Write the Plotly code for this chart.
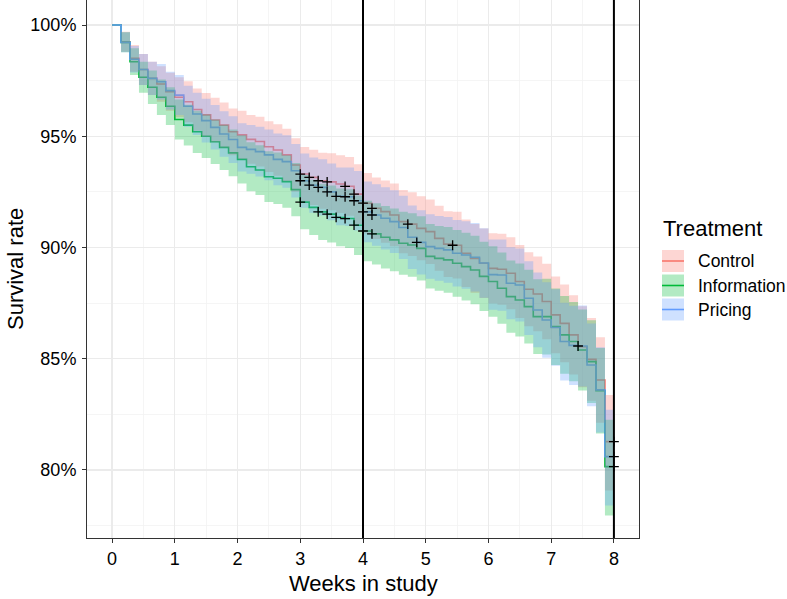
import plotly.graph_objects as go

# ---------------- data ----------------
days = list(range(57))  # daily steps, 0..56 days (= 0..8 weeks)

ctrl_surv = [100, 99.25, 98.5, 98.0, 97.6, 97.35, 97.0, 96.75, 96.55, 96.2,
             95.96, 95.73, 95.5, 95.2, 95.06, 94.86, 94.76, 94.53, 94.38, 94.16,
             93.71, 93.3, 93.15, 93.0, 92.95, 92.85, 92.75, 92.4, 91.99, 91.76,
             91.61, 91.46, 91.16, 91.05, 90.86, 90.71, 90.41, 90.15, 90.1, 89.74,
             89.51, 89.29, 89.06, 89.02, 88.84, 88.47, 88.12, 87.91, 87.57, 86.97,
             86.59, 86.07, 85.54, 84.97, 84.04, 81.27, 81.27]
ctrl_upper = [100, 99.70, 99.10, 98.70, 98.35, 98.15, 97.85, 97.65, 97.47, 97.15,
              96.94, 96.73, 96.52, 96.25, 96.14, 95.96, 95.88, 95.67, 95.54, 95.34,
              94.91, 94.52, 94.39, 94.26, 94.23, 94.15, 94.07, 93.74, 93.35, 93.14,
              93.01, 92.87, 92.58, 92.48, 92.30, 92.16, 91.87, 91.63, 91.60, 91.26,
              91.05, 90.85, 90.64, 90.62, 90.46, 90.11, 89.78, 89.59, 89.27, 88.69,
              88.34, 87.85, 87.36, 86.83, 85.96, 83.37, 83.37]
ctrl_lower = [100, 98.80, 97.90, 97.30, 96.85, 96.55, 96.15, 95.85, 95.63, 95.25,
              94.98, 94.73, 94.48, 94.15, 93.98, 93.76, 93.64, 93.39, 93.22, 92.98,
              92.51, 92.08, 91.91, 91.74, 91.67, 91.55, 91.43, 91.06, 90.63, 90.38,
              90.21, 90.05, 89.74, 89.62, 89.42, 89.26, 88.95, 88.67, 88.60, 88.22,
              87.97, 87.73, 87.48, 87.42, 87.22, 86.83, 86.46, 86.23, 85.87, 85.25,
              84.84, 84.29, 83.72, 83.11, 82.12, 79.07, 79.07]

info_surv = [100, 99.22, 98.35, 97.65, 97.2, 96.75, 96.35, 95.75, 95.5, 95.2,
             95.0, 94.75, 94.5, 94.25, 93.96, 93.63, 93.48, 93.18, 93.11, 92.96,
             92.6, 92.04, 91.8, 91.6, 91.5, 91.35, 91.3, 91.0, 90.74, 90.61,
             90.46, 90.34, 90.19, 90.11, 89.96, 89.6, 89.51, 89.44, 89.29, 89.14,
             88.99, 88.7, 88.47, 88.17, 87.79, 87.64, 87.34, 86.89, 86.89, 86.44,
             86.07, 85.77, 85.39, 84.87, 83.56, 80.15, 80.15]
info_upper = [100, 99.67, 98.95, 98.35, 97.95, 97.55, 97.20, 96.65, 96.42, 96.15,
              95.98, 95.75, 95.52, 95.30, 95.04, 94.73, 94.60, 94.32, 94.27, 94.14,
              93.80, 93.26, 93.04, 92.86, 92.78, 92.65, 92.62, 92.34, 92.10, 91.99,
              91.86, 91.75, 91.61, 91.54, 91.40, 91.05, 90.97, 90.92, 90.79, 90.66,
              90.53, 90.26, 90.05, 89.77, 89.41, 89.28, 89.00, 88.57, 88.59, 88.16,
              87.82, 87.55, 87.21, 86.73, 85.48, 82.25, 82.25]
info_lower = [100, 98.77, 97.75, 96.95, 96.45, 95.95, 95.50, 94.85, 94.58, 94.25,
              94.02, 93.75, 93.48, 93.20, 92.88, 92.53, 92.36, 92.04, 91.95, 91.78,
              91.40, 90.82, 90.56, 90.34, 90.22, 90.05, 89.98, 89.66, 89.38, 89.23,
              89.06, 88.93, 88.77, 88.68, 88.52, 88.15, 88.05, 87.96, 87.79, 87.62,
              87.45, 87.14, 86.89, 86.57, 86.17, 86.00, 85.68, 85.21, 85.19, 84.72,
              84.32, 83.99, 83.57, 83.01, 81.64, 77.95, 77.95]

pric_surv = [100, 99.22, 98.46, 98.0, 97.6, 97.45, 97.05, 96.85, 96.35, 96.0,
             95.7, 95.4, 95.1, 94.85, 94.5, 94.41, 94.31, 94.16, 93.96, 93.86,
             93.45, 93.0, 92.8, 92.7, 92.5, 92.3, 92.28, 92.1, 91.6, 91.46,
             91.31, 91.16, 90.9, 90.46, 90.23, 90.04, 89.96, 89.89, 89.74, 89.66,
             89.56, 89.3, 88.78, 88.76, 88.39, 88.31, 87.72, 87.19, 86.74, 86.4,
             85.77, 85.6, 85.57, 84.72, 83.6, 80.6, 80.6]
pric_upper = [100, 99.67, 99.06, 98.70, 98.35, 98.25, 97.90, 97.75, 97.27, 96.95,
              96.68, 96.40, 96.12, 95.90, 95.58, 95.51, 95.43, 95.30, 95.12, 95.04,
              94.65, 94.22, 94.04, 93.96, 93.78, 93.60, 93.60, 93.44, 92.96, 92.84,
              92.71, 92.57, 92.32, 91.89, 91.67, 91.49, 91.42, 91.37, 91.24, 91.18,
              91.10, 90.86, 90.36, 90.36, 90.01, 89.95, 89.38, 88.87, 88.44, 88.12,
              87.52, 87.38, 87.39, 86.58, 85.52, 82.70, 82.70]
pric_lower = [100, 98.77, 97.86, 97.30, 96.85, 96.65, 96.20, 95.95, 95.43, 95.05,
              94.72, 94.40, 94.08, 93.80, 93.42, 93.31, 93.19, 93.02, 92.80, 92.68,
              92.25, 91.78, 91.56, 91.44, 91.22, 91.00, 90.96, 90.76, 90.24, 90.08,
              89.91, 89.75, 89.48, 89.03, 88.79, 88.59, 88.50, 88.41, 88.24, 88.14,
              88.02, 87.74, 87.20, 87.16, 86.77, 86.67, 86.06, 85.51, 85.04, 84.68,
              84.02, 83.82, 83.75, 82.86, 81.68, 78.40, 78.40]

# censoring marks (day of censoring)
ctrl_censor_days = [21, 22, 23, 24, 26, 27, 28, 29, 33, 38, 56]
info_censor_days = [21, 23, 24, 25, 26, 27, 28, 29, 56]
pric_censor_days = [21, 22, 23, 24, 25, 26, 27, 28, 29, 34, 52, 56]

groups = ["Control", "Information", "Pricing"]
colors = ["#F8766D", "#00BA38", "#619CFF"]
fills = ["rgba(248,118,109,0.3)", "rgba(0,186,56,0.3)", "rgba(97,156,255,0.3)"]

x_ticks = [0, 1, 2, 3, 4, 5, 6, 7, 8]
y_ticks = [80, 85, 90, 95, 100]
y_tick_labels = ["80%", "85%", "90%", "95%", "100%"]
vline_weeks = [4, 8]

# ---------------- figure ----------------
weeks = [d / 7 for d in days]
surv = [ctrl_surv, info_surv, pric_surv]
upper = [ctrl_upper, info_upper, pric_upper]
lower = [ctrl_lower, info_lower, pric_lower]
censor = [ctrl_censor_days, info_censor_days, pric_censor_days]

fig = go.Figure()

# step lines (drawn first; ribbons are laid over them as in survminer)
for g, s, c in zip(groups, surv, colors):
    fig.add_trace(go.Scatter(x=weeks, y=s, mode="lines", line=dict(color=c, width=1.6, shape="hv"),
                             name=g, showlegend=False, hoverinfo="skip"))

# confidence ribbons
for g, lo, hi, f in zip(groups, lower, upper, fills):
    fig.add_trace(go.Scatter(x=weeks, y=lo, mode="lines", line=dict(width=0, shape="hv", color=f),
                             showlegend=False, hoverinfo="skip"))
    fig.add_trace(go.Scatter(x=weeks, y=hi, mode="lines", line=dict(width=0, shape="hv", color=f),
                             fill="tonexty", fillcolor=f, showlegend=False, hoverinfo="skip"))

# censor marks
for s, cd in zip(surv, censor):
    fig.add_trace(go.Scatter(x=[d / 7 for d in cd], y=[s[d] for d in cd], mode="markers",
                             marker=dict(symbol="cross-thin", size=7, color="black",
                                         line=dict(color="black", width=1.3)),
                             showlegend=False, hoverinfo="skip"))

for w in vline_weeks:
    fig.add_shape(type="line", xref="x", yref="paper", x0=w, x1=w, y0=0, y1=1,
                  line=dict(color="black", width=2))

# ---------------- layout ----------------
W, H = 787, 599
L, R, T, B = 87, 148, 0, 61
pw, ph = W - L - R, H - T - B


def px(xp):
    return (xp - L) / pw


def py(yp):
    return 1 - (yp - T) / ph


font = "Liberation Sans, Arial, sans-serif"
fig.update_layout(
    width=W, height=H, margin=dict(l=L, r=R, t=T, b=B, autoexpand=False),
    plot_bgcolor="white", paper_bgcolor="white",
    font=dict(family=font, color="black"),
    showlegend=False,
)
fig.update_xaxes(range=[-0.4, 8.4], tickvals=x_ticks, ticks="outside", ticklen=4, tickwidth=1,
                 tickcolor="#333333", showline=True, linecolor="#333333", linewidth=1,
                 showgrid=True, gridcolor="#EBEBEB", gridwidth=1.3, zeroline=False,
                 tickfont=dict(size=18, color="black"),
                 minor=dict(dtick=0.5, showgrid=True, gridcolor="#F3F3F3", gridwidth=0.8))
fig.update_yaxes(range=[76.94, 101.124], tickvals=y_ticks, ticktext=y_tick_labels,
                 ticks="outside", ticklen=4, tickwidth=1, tickcolor="#333333",
                 showline=True, linecolor="#333333", linewidth=1, mirror=True,
                 showgrid=True, gridcolor="#EBEBEB", gridwidth=1.3, zeroline=False,
                 tickfont=dict(size=18, color="black"), ticklabelstandoff=2,
                 minor=dict(dtick=2.5, showgrid=True, gridcolor="#F3F3F3", gridwidth=0.8))

ann = []
ann.append(dict(text="Weeks in study", x=px(363), y=py(583), xref="paper", yref="paper",
                showarrow=False, xanchor="center", yanchor="middle", font=dict(size=22)))
ann.append(dict(text="Survival rate", x=px(15), y=py(269), xref="paper", yref="paper",
                showarrow=False, xanchor="center", yanchor="middle", textangle=-90,
                font=dict(size=22)))
ann.append(dict(text="Treatment", x=px(661), y=py(228), xref="paper", yref="paper",
                showarrow=False, xanchor="left", yanchor="middle", font=dict(size=22)))

key_top = [250, 274.5, 298.5]
for g, c, f, kt in zip(groups, colors, fills, key_top):
    fig.add_shape(type="rect", xref="paper", yref="paper", x0=px(662), x1=px(684),
                  y0=py(kt), y1=py(kt + 22), fillcolor=f, line=dict(width=0))
    fig.add_shape(type="line", xref="paper", yref="paper", x0=px(662), x1=px(684),
                  y0=py(kt + 11), y1=py(kt + 11), line=dict(color=c, width=1.6))
    ann.append(dict(text=g, x=px(696), y=py(kt + 11), xref="paper", yref="paper",
                    showarrow=False, xanchor="left", yanchor="middle", font=dict(size=17.5)))

fig.update_layout(annotations=ann)
fig.write_html("out.html", config={"displayModeBar": False, "staticPlot": True},
               post_script="document.body.style.margin='0';document.body.style.overflow='hidden';")
